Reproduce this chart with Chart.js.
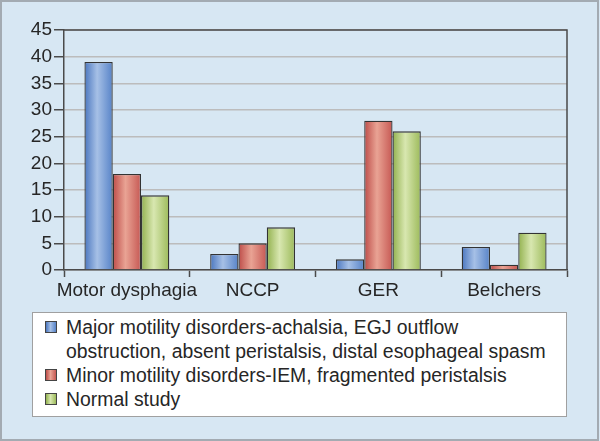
<!DOCTYPE html>
<html>
<head>
<meta charset="utf-8">
<script src="https://cdn.jsdelivr.net/npm/chart.js@4"></script>
<style>
html,body{margin:0;padding:0;}
body{width:600px;height:441px;background:#d7e7f3;position:relative;overflow:hidden;font-family:"Liberation Sans",Arial,sans-serif;}
#frame{position:absolute;left:0;top:0;width:599px;height:441px;box-sizing:border-box;border:2px solid #a3abb2;}
#c{position:absolute;left:0;top:0;}
#legend{position:absolute;left:32px;top:312px;width:535px;height:105px;box-sizing:border-box;background:#fff;border:1px solid #a0a0a0;padding:2px 0 0 12px;}
.row{display:flex;align-items:flex-start;line-height:24px;font-size:19.4px;color:#262626;}
.sw{width:10px;height:10px;border:1px solid #444;margin-top:6px;margin-right:9px;flex:none;}
</style>
</head>
<body>
<div id="frame"></div>
<canvas id="c" width="600" height="441" style="width:600px;height:441px"></canvas>
<div id="legend"></div>
<script>
const categories = ['Motor dysphagia', 'NCCP', 'GER', 'Belchers'];
const majorValues = [39, 3, 2, 4.3];
const minorValues = [18, 5, 28, 1];
const normalValues = [14, 8, 26, 7];
const seriesLabels = [
  ['Major motility disorders-achalsia, EGJ outflow', 'obstruction, absent peristalsis, distal esophageal spasm'],
  ['Minor motility disorders-IEM, fragmented peristalsis'],
  ['Normal study']
];
const yTicks = [0, 5, 10, 15, 20, 25, 30, 35, 40, 45];

const gradStops = [
  ['#4a76bf', '#a6c0e6', '#5783c8'],
  ['#bd4c48', '#e9a394', '#c65853'],
  ['#92b14e', '#d8e7b0', '#9cba5a']
];
const swatchColors = ['#7ea0d8', '#d6776e', '#c0d78a'];

const gradientPlugin = {
  id: 'barGradient',
  beforeDatasetsDraw(chart) {
    const ctx = chart.ctx;
    chart.data.datasets.forEach((ds, di) => {
      const meta = chart.getDatasetMeta(di);
      const stops = gradStops[di];
      meta.data.forEach(el => {
        const p = el.getProps(['x', 'width'], true);
        const g = ctx.createLinearGradient(p.x - p.width / 2, 0, p.x + p.width / 2, 0);
        g.addColorStop(0, stops[0]);
        g.addColorStop(0.45, stops[1]);
        g.addColorStop(1, stops[2]);
        el.options = Object.assign({}, el.options, {backgroundColor: g});
      });
    });
  }
};

const framePlugin = {
  id: 'frame',
  afterDraw(chart) {
    const a = chart.chartArea, ctx = chart.ctx;
    ctx.save();
    ctx.strokeStyle = '#4a4a4a';
    ctx.lineWidth = 1.5;
    ctx.beginPath();
    ctx.moveTo(a.left, a.top);
    ctx.lineTo(a.right, a.top);
    ctx.lineTo(a.right, a.bottom);
    ctx.stroke();
    ctx.restore();
  }
};

const datasets = [majorValues, minorValues, normalValues].map((vals, i) => ({
  label: seriesLabels[i].join(' '),
  data: vals,
  backgroundColor: swatchColors[i],
  borderColor: '#333',
  borderWidth: 1.3,
  categoryPercentage: 0.675,
  barPercentage: 1
}));

new Chart(document.getElementById('c'), {
  type: 'bar',
  data: {labels: categories, datasets},
  options: {
    responsive: false,
    animation: false,
    events: [],
    layout: {padding: {top: 30, left: 0, right: 33, bottom: 141}},
    plugins: {legend: {display: false}, tooltip: {enabled: false}},
    scales: {
      x: {
        afterFit(s) { s.height = 30; s.paddingLeft = 0; s.paddingRight = 0; },
        grid: {drawOnChartArea: false, tickLength: 7, tickColor: '#4a4a4a', tickWidth: 1.5},
        border: {color: '#4a4a4a', width: 1.5},
        ticks: {color: '#262626', font: {family: '"Liberation Sans", Arial, sans-serif', size: 19}, padding: 2, maxRotation: 0, autoSkip: false}
      },
      y: {
        min: 0, max: 45,
        afterFit(s) { s.width = 64; s.paddingTop = 0; s.paddingBottom = 0; },
        afterBuildTicks(s) { s.ticks = yTicks.map(v => ({value: v})); },
        grid: {color: '#bcbcbc', lineWidth: 1.5, tickLength: 10, tickColor: '#4a4a4a', tickWidth: 1.5},
        border: {color: '#4a4a4a', width: 1.5},
        ticks: {color: '#262626', font: {family: '"Liberation Sans", Arial, sans-serif', size: 19}, padding: 2}
      }
    }
  },
  plugins: [gradientPlugin, framePlugin]
});

const legend = document.getElementById('legend');
seriesLabels.forEach((lines, i) => {
  const row = document.createElement('div');
  row.className = 'row';
  const sw = document.createElement('div');
  sw.className = 'sw';
  sw.style.background = 'linear-gradient(to right,' + gradStops[i][0] + ',' + gradStops[i][1] + ' 45%,' + gradStops[i][2] + ')';
  const txt = document.createElement('div');
  lines.forEach((ln, k) => {
    if (k) txt.appendChild(document.createElement('br'));
    txt.appendChild(document.createTextNode(ln));
  });
  row.appendChild(sw);
  row.appendChild(txt);
  legend.appendChild(row);
});
</script>
</body>
</html>
